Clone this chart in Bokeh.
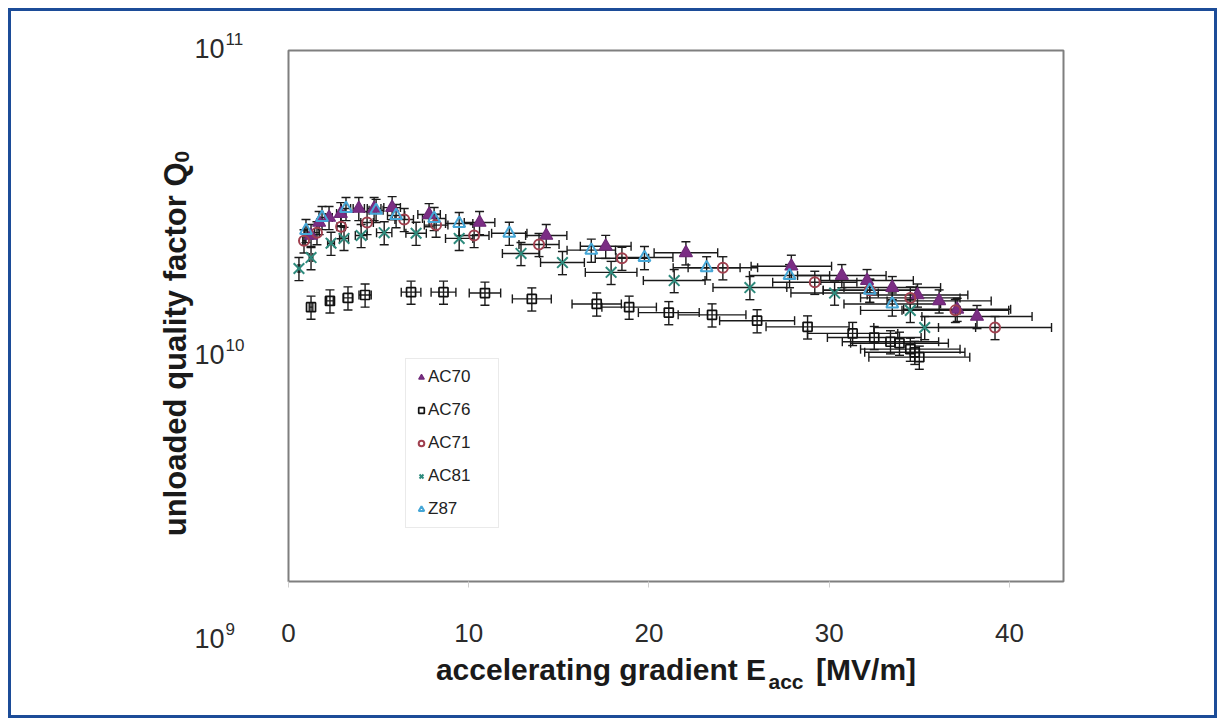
import math
from bokeh.plotting import figure
from bokeh.models import (ColumnDataSource, Whisker, TeeHead, Legend, LegendItem,
                          Label, FixedTicker, Range1d)
from bokeh.embed import file_html
from bokeh.resources import INLINE

# ---------------- data ----------------
SERIES_NAMES = ["AC70", "AC76", "AC71", "AC81", "Z87"]

AC70_E = [1.25, 1.7, 2.25, 2.9, 3.9, 4.75, 5.75, 7.8, 10.6, 14.3, 17.6, 22.05,
          27.9, 30.7, 32.1, 33.5, 34.9, 36.1, 37.1, 38.2]
AC70_Q = [2.01e10, 2.25e10, 2.35e10, 2.43e10, 2.54e10, 2.54e10, 2.56e10, 2.41e10,
          2.25e10, 2.01e10, 1.83e10, 1.73e10, 1.54e10, 1.42e10, 1.36e10, 1.28e10,
          1.20e10, 1.14e10, 1.06e10, 9.96e9]

AC76_E = [1.25, 2.3, 3.3, 4.25, 6.8, 8.6, 10.9, 13.5, 17.1, 18.9, 21.1, 23.5, 26.0,
          28.8, 31.3, 32.5, 33.4, 33.9, 34.5, 34.75, 35.0]
AC76_Q = [1.08e10, 1.14e10, 1.17e10, 1.20e10, 1.23e10, 1.23e10, 1.22e10, 1.16e10,
          1.11e10, 1.08e10, 1.03e10, 1.01e10, 9.6e9, 9.1e9, 8.6e9, 8.3e9, 8.0e9,
          7.9e9, 7.5e9, 7.3e9, 7.0e9]

AC71_E = [0.86, 1.58, 2.92, 4.36, 6.42, 8.19, 10.3, 13.9, 18.5, 24.1, 29.2, 32.25,
          34.5, 37.0, 39.2]
AC71_Q = [1.92e10, 2.06e10, 2.17e10, 2.25e10, 2.31e10, 2.20e10, 2.01e10, 1.86e10,
          1.65e10, 1.52e10, 1.34e10, 1.25e10, 1.17e10, 1.05e10, 9.05e9]

AC81_E = [0.58, 1.25, 2.36, 3.08, 4.03, 5.31, 7.08, 9.47, 12.9, 15.2, 17.9, 21.4,
          25.6, 30.3, 34.5, 35.3]
AC81_Q = [1.51e10, 1.66e10, 1.88e10, 1.96e10, 2.01e10, 2.06e10, 2.05e10, 1.96e10,
          1.72e10, 1.59e10, 1.46e10, 1.36e10, 1.28e10, 1.22e10, 1.05e10, 9.05e9]

Z87_E = [0.97, 1.86, 3.19, 4.86, 5.97, 8.08, 9.47, 12.25, 16.8, 19.75, 23.2, 27.8,
         32.25, 33.5]
Z87_Q = [2.10e10, 2.35e10, 2.54e10, 2.50e10, 2.39e10, 2.33e10, 2.23e10, 2.05e10,
         1.77e10, 1.66e10, 1.52e10, 1.42e10, 1.25e10, 1.11e10]

# relative measurement uncertainties as drawn in the picture
E_REL_ERR = 0.08
Q_REL_ERR = 0.10

X_TICKS = [0, 10, 20, 30, 40]
Y_TICK_BASE = ["10", "10", "10"]
Y_TICK_EXP = ["11", "10", "9"]
X_TITLE = ["accelerating gradient E", "acc", "[MV/m]"]
Y_TITLE = ["unloaded quality factor Q", "0"]

# ---------------- styling ----------------
FONT = "Liberation Sans"
STYLE = {
    "AC70": dict(marker="triangle", size=13, line_color="#6f2a78", fill_color="#7b2d84", fill_alpha=1.0, line_width=1.2),
    "AC76": dict(marker="square", size=9, line_color="#111111", fill_color="#ffffff", fill_alpha=0.0, line_width=1.7),
    "AC71": dict(marker="circle", size=10, line_color="#a0404f", fill_color="#ffffff", fill_alpha=0.0, line_width=2.0),
    "AC81": dict(marker="x", size=15, line_color="#2e8b7d", fill_color="#2e8b7d", fill_alpha=1.0, line_width=2.0),
    "Z87": dict(marker="triangle", size=12, line_color="#45a6d6", fill_color="#ffffff", fill_alpha=0.0, line_width=2.0),
}
DATA = {
    "AC70": (AC70_E, AC70_Q),
    "AC76": (AC76_E, AC76_Q),
    "AC71": (AC71_E, AC71_Q),
    "AC81": (AC81_E, AC81_Q),
    "Z87": (Z87_E, Z87_Q),
}

OFF = 11  # figure offset on the page (outline drawn just outside)
W, H = 1217 - OFF - 3, 718 - OFF - 3
TXT_SHIFT = 8  # labels draw this far below the requested baseline


def cx(px):
    return px - OFF


def cy(py):
    return py - OFF


p = figure(width=W, height=H, output_backend="svg", toolbar_location=None,
           y_axis_type="log", x_range=Range1d(0, 43), y_range=Range1d(1e9, 1e11),
           min_border_left=cx(288), min_border_right=1217 - 3 - 1063,
           min_border_top=cy(50), min_border_bottom=718 - 3 - 581,
           margin=(OFF, 0, 0, OFF))
p.styles = {"outline": "3px solid #1c4c98", "outline-offset": "0px"}
p.grid.visible = False
p.background_fill_color = "white"
p.border_fill_color = "white"
p.outline_line_color = "#7f7f7f"
p.outline_line_width = 2

p.yaxis.visible = False
xa = p.xaxis[0]
xa.ticker = FixedTicker(ticks=X_TICKS, minor_ticks=[])
xa.axis_line_color = None
xa.major_tick_in = 0
xa.major_tick_out = 6
xa.major_tick_line_color = "#cfcfcf"
xa.minor_tick_out = 0
xa.major_label_text_font = FONT
xa.major_label_text_font_size = "26px"
xa.major_label_text_color = "#2b2b2b"
xa.major_label_standoff = 36
# title; the gap (no-break spaces) leaves room for the subscript "acc"
xa.axis_label = X_TITLE[0] + "\u00a0" * 6 + X_TITLE[2]
xa.axis_label_text_font = FONT
xa.axis_label_text_font_size = "30px"
xa.axis_label_text_font_style = "bold"
xa.axis_label_text_color = "#1a1a1a"
xa.axis_label_standoff = 8

renderers = {}
for name in SERIES_NAMES:
    E, Q = DATA[name]
    src = ColumnDataSource(dict(
        E=E, Q=Q,
        E_lo=[e * (1 - E_REL_ERR) for e in E],
        E_hi=[e * (1 + E_REL_ERR) for e in E],
        Q_lo=[q * (1 - Q_REL_ERR) for q in Q],
        Q_hi=[q * (1 + Q_REL_ERR) for q in Q],
    ))
    for dim, base, lo, hi in (("height", "E", "Q_lo", "Q_hi"), ("width", "Q", "E_lo", "E_hi")):
        p.add_layout(Whisker(
            source=src, base=base, lower=lo, upper=hi, dimension=dim,
            line_color="#1a1a1a", line_width=1.4,
            upper_head=TeeHead(size=9, line_color="#1a1a1a", line_width=1.4),
            lower_head=TeeHead(size=9, line_color="#1a1a1a", line_width=1.4)))
    st = STYLE[name]
    renderers[name] = p.scatter("E", "Q", source=src, **st)

legend = Legend(items=[LegendItem(label=n, renderers=[renderers[n]]) for n in SERIES_NAMES],
                location=(117, 53), orientation="vertical",
                padding=8, spacing=13, margin=0,
                glyph_width=14, glyph_height=20, label_height=20, label_width=62,
                label_standoff=0,
                label_text_font=FONT, label_text_font_size="17px",
                label_text_color="#222222",
                border_line_color="#d6d6d6", border_line_width=1,
                background_fill_color="white", background_fill_alpha=1.0)
p.add_layout(legend)


def add_text(side, px, py, text, size, bold=False, align="left", angle=0.0, color="#1a1a1a"):
    # placed in a side panel (not clipped to the frame), positioned in canvas pixels
    if angle == 0.0:
        py -= TXT_SHIFT
    else:
        px -= TXT_SHIFT + 4
    p.add_layout(Label(x=cx(px), y=cy(py), x_units="canvas", y_units="canvas",
                       text=text, angle=angle, text_font=FONT, text_font_size=size,
                       text_font_style="bold" if bold else "normal", text_color=color,
                       text_align=align, text_baseline="alphabetic"), side)


# y tick labels (10 with superscript exponent)
for base_txt, exp_txt, baseline in zip(Y_TICK_BASE, Y_TICK_EXP, [56, 362, 646]):
    add_text("right", 194, baseline, base_txt, "27px", color="#2b2b2b")
    add_text("right", 225, baseline - 10, exp_txt, "17px", color="#2b2b2b")

# subscript of the x axis title
add_text("left", 768, 689, X_TITLE[1], "21px", bold=True)

# y axis title with subscript (rotated)
add_text("left", 187, 162, Y_TITLE[0], "31px", bold=True, align="right", angle=math.pi / 2)
add_text("left", 193, 162, Y_TITLE[1], "21px", bold=True, angle=math.pi / 2)

open("out.html", "w").write(file_html(p, INLINE))
